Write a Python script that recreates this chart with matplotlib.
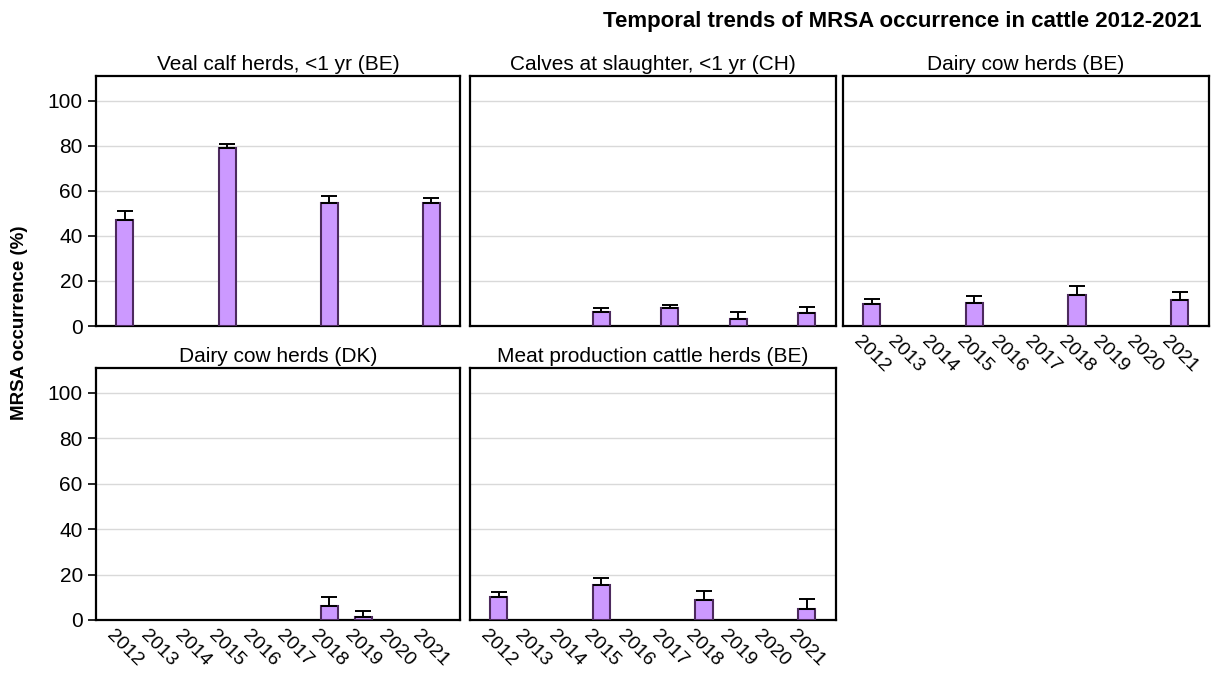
import matplotlib.pyplot as plt
import matplotlib.transforms as mtransforms
import numpy as np

plt.rcParams['font.family'] = ['Liberation Sans', 'DejaVu Sans']

years = ['2012', '2013', '2014', '2015', '2016', '2017', '2018', '2019', '2020', '2021']

titles = ['Veal calf herds, <1 yr (BE)', 'Calves at slaughter, <1 yr (CH)', 'Dairy cow herds (BE)',
          'Dairy cow herds (DK)', 'Meat production cattle herds (BE)']

# occurrence (%) per year, None = no data; *_up = upper end of error bar
veal_be = [47, None, None, 79, None, None, 54.5, None, None, 54.5]
veal_be_up = [51, None, None, 81, None, None, 57.5, None, None, 57]
calves_ch = [None, None, None, 6.2, None, 7.8, None, 3.2, None, 5.9]
calves_ch_up = [None, None, None, 8, None, 9.5, None, 6.2, None, 8.3]
dairy_be = [9.7, None, None, 10.3, None, None, 13.6, None, None, 11.5]
dairy_be_up = [11.9, None, None, 13.3, None, None, 17.7, None, None, 15.2]
dairy_dk = [None, None, None, None, None, None, 6.0, 1.5, None, None]
dairy_dk_up = [None, None, None, None, None, None, 10, 4.1, None, None]
meat_be = [10.3, None, None, 15.2, None, None, 8.8, None, None, 4.7]
meat_be_up = [12.3, None, None, 18.5, None, None, 12.6, None, None, 9.2]

series = [(veal_be, veal_be_up), (calves_ch, calves_ch_up), (dairy_be, dairy_be_up),
          (dairy_dk, dairy_dk_up), (meat_be, meat_be_up)]

# axes rectangles (left, bottom, width, height)
rects = [(0.0793, 0.5156, 0.3006, 0.3715), (0.388, 0.5156, 0.302, 0.3715), (0.696, 0.5156, 0.302, 0.3715),
         (0.0793, 0.0788, 0.3006, 0.3744), (0.388, 0.0788, 0.302, 0.3744)]
show_y = [True, False, False, True, False]
show_x = [False, False, True, True, True]

fig = plt.figure(figsize=(12.11, 6.73), dpi=100)
x = np.arange(len(years))
shift = mtransforms.ScaledTranslation(-7 / 72, 0, fig.dpi_scale_trans)

for i in range(5):
    ax = fig.add_axes(rects[i])
    vals, ups = series[i]
    xs = [x[j] for j in range(len(vals)) if vals[j] is not None]
    hs = [vals[j] for j in range(len(vals)) if vals[j] is not None]
    es = [ups[j] - vals[j] for j in range(len(vals)) if vals[j] is not None]
    ax.bar(xs, hs, width=0.5, color='#cc99ff', edgecolor='#4d2a5e', linewidth=1.5, zorder=3)
    ax.errorbar(xs, hs, yerr=[np.zeros(len(es)), es], fmt='none', ecolor='black',
                elinewidth=1.4, capsize=6, capthick=1.4, zorder=4)
    ax.set_xlim(-0.85, 9.85)
    ax.set_ylim(0, 111)
    ax.set_yticks([0, 20, 40, 60, 80, 100])
    ax.yaxis.grid(True, color='#d9d9d9', linewidth=1, zorder=0)
    for s in ax.spines.values():
        s.set_linewidth(1.6)
    ax.set_title(titles[i], fontsize=15, pad=4)
    ax.tick_params(axis='x', length=0, labelsize=14, pad=5)
    ax.tick_params(axis='y', length=6, width=1.2, labelsize=15)
    ax.set_xticks(x)
    if show_x[i]:
        ax.set_xticklabels(years, rotation=-45, ha='left', va='top', rotation_mode='anchor')
        for lbl in ax.get_xticklabels():
            lbl.set_transform(lbl.get_transform() + shift)
    else:
        ax.set_xticklabels([])
    if not show_y[i]:
        ax.set_yticklabels([])
        ax.tick_params(axis='y', length=0)

fig.text(0.992, 0.968, 'Temporal trends of MRSA occurrence in cattle 2012-2021', ha='right', va='center',
         fontsize=16, fontweight='bold')
fig.text(0.0165, 0.52, 'MRSA occurrence (%)', rotation=90, ha='center', va='center',
         fontsize=13.5, fontweight='bold')

plt.savefig('out.png', dpi=100)
